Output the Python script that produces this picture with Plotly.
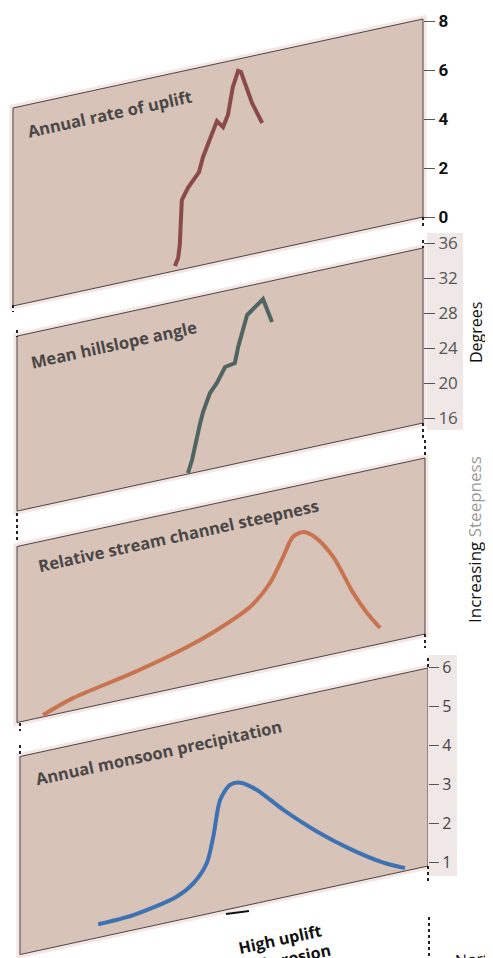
import math
import plotly.graph_objects as go

PAGE_W, PAGE_H = 493, 958
OFF = 8  # default page body margin
W, H = PAGE_W - OFF, PAGE_H - OFF

# ---------------- data ----------------
# x: position across the transect, 0 = left edge, 100 = right edge of the panels
uplift_x = [38.7, 39.5, 39.9, 40.2, 40.4, 41.9, 44.6, 45.6, 47.3, 49.0, 50.5, 51.7, 52.9, 54.2, 54.9, 55.9, 57.6, 60.1]
uplift_v = [0.20, 0.50, 1.01, 1.82, 2.83, 3.27, 3.82, 4.40, 5.11, 5.74, 5.44, 5.89, 6.99, 7.60, 7.53, 7.05, 6.17, 5.26]

hill_x = [41.9, 42.9, 44.9, 45.6, 47.3, 49.0, 51.0, 53.4, 54.2, 56.4, 60.3, 62.5]
hill_v = [15.54, 16.93, 20.96, 22.14, 24.14, 25.11, 26.74, 26.95, 28.70, 32.13, 33.57, 30.72]

stream_x = [6.4, 13.7, 28.4, 41.7, 49.0, 57.1, 62.0, 65.2, 67.6, 70.1, 73.0, 77.5, 82.4, 85.8, 89.0]
stream_v = [0.11, 0.70, 1.39, 2.19, 2.79, 3.69, 4.81, 6.12, 7.14, 7.30, 6.87, 5.51, 3.22, 1.91, 0.90]

monsoon_x = [19.9, 28.5, 39.1, 43.2, 46.5, 48.1, 49.8, 52.2, 54.7, 58.8, 65.3, 73.5, 81.6, 89.8, 95.1]
monsoon_v = [1.24, 1.28, 1.51, 1.76, 2.20, 2.84, 3.75, 4.08, 4.08, 3.80, 3.14, 2.40, 1.77, 1.23, 0.97]

uplift_ticks = [0, 2, 4, 6, 8]
hill_ticks = [16, 20, 24, 28, 32, 36]
monsoon_ticks = [1, 2, 3, 4, 5, 6]

titles = ["Annual rate of uplift", "Mean hillslope angle",
          "Relative stream channel steepness", "Annual monsoon precipitation"]

# ---------------- geometry (layout only, page pixels) ----------------
X0_PX, PX_PER_X = 17.0, 4.08
SHEAR = 0.217  # px down per px to the left
ANGLE = -math.degrees(math.atan(SHEAR))

panels = [
    dict(l=13, r=423, tr=19, br=217, p_ref=217, v_ref=0, k=24.5),
    dict(l=17, r=423, tr=248, br=423, p_ref=418, v_ref=16, k=8.75),
    dict(l=17, r=425, tr=458, br=634, p_ref=634, v_ref=0, k=17.6),
    dict(l=20, r=428, tr=668, br=866, p_ref=862, v_ref=1, k=39.0),
]


def yrange(p):
    pr = p["p_ref"] - OFF
    return [p["v_ref"] - (H - pr) / p["k"], p["v_ref"] + pr / p["k"]]


def sheared(p, xs, vs):
    out = []
    for x, v in zip(xs, vs):
        px = X0_PX + PX_PER_X * x
        out.append(v - SHEAR * (p["r"] - px) / p["k"])
    return out


def pp(px, py):
    return (px - OFF) / W, 1 - (py - OFF) / H


fig = go.Figure()

shapes = []
for p in panels:
    d = SHEAR * (p["r"] - p["l"])
    corners = [(p["l"], p["tr"] + d), (p["r"], p["tr"]), (p["r"], p["br"]), (p["l"], p["br"] + d)]
    path = "M " + " L ".join(f"{pp(a, b)[0]:.5f},{pp(a, b)[1]:.5f}" for a, b in corners) + " Z"
    shapes.append(dict(type="path", path=path, xref="paper", yref="paper", layer="below",
                       fillcolor="#f3e6e5", line=dict(color="#f3e6e5", width=7)))
    shapes.append(dict(type="path", path=path, xref="paper", yref="paper", layer="below",
                       fillcolor="#d7c3b8", line=dict(color="#4d4545", width=1)))

# light boxes behind tick labels
for (x0, y0, x1, y1) in [(427, 233, 463, 430), (428, 655, 457, 876)]:
    a = pp(x0, y0); b = pp(x1, y1)
    shapes.append(dict(type="rect", xref="paper", yref="paper", layer="below",
                       x0=a[0], y0=b[1], x1=b[0], y1=a[1], fillcolor="#efe8e7", line=dict(width=0)))

# dotted connectors
dots = [(423, 217, 228), (13, 305, 312), (17, 330, 337), (423, 240, 248), (423, 423, 440),
        (17, 513, 542), (425, 440, 458), (425, 634, 648), (20, 723, 731), (20, 745, 756),
        (428, 658, 668), (428, 866, 882), (429, 917, 958)]
for (x, y0, y1) in dots:
    a = pp(x, y0); b = pp(x, y1)
    shapes.append(dict(type="line", xref="paper", yref="paper", x0=a[0], x1=a[0], y0=a[1], y1=b[1],
                       line=dict(color="#222222", width=2, dash="dot")))

# small dark arc below the last panel
a = pp(226, 914); b = pp(249, 911)
shapes.append(dict(type="line", xref="paper", yref="paper", x0=a[0], y0=a[1], x1=b[0], y1=b[1],
                   line=dict(color="#111111", width=2)))

series = [
    (uplift_x, uplift_v, "y", "#8a4a4a", "linear"),
    (hill_x, hill_v, "y2", "#506461", "linear"),
    (stream_x, stream_v, "y3", "#c97450", "spline"),
    (monsoon_x, monsoon_v, "y4", "#3e72b2", "spline"),
]
for (xs, vs, ya, col, shape), p in zip(series, panels):
    fig.add_trace(go.Scatter(x=xs, y=sheared(p, xs, vs), yaxis=ya, mode="lines",
                             line=dict(color=col, width=4, shape=shape, smoothing=0.8),
                             hoverinfo="skip"))

x0f = X0_PX - OFF
xr = [-x0f / PX_PER_X, (W - x0f) / PX_PER_X]


def tick_axis(p, vals, font, ticklen, **kw):
    d = dict(range=yrange(p), domain=[0, 1], anchor="free", position=(p["r"] - OFF) / W, side="right",
             tickmode="array", tickvals=vals, ticks="outside", ticklen=ticklen, tickwidth=1,
             tickcolor="#555555", showgrid=False, zeroline=False, showline=False,
             tickfont=font, fixedrange=True)
    d.update(kw)
    return d


def note(text, px, py, size, angle=0, color="#111111", xanchor="center", yanchor="middle"):
    a = pp(px, py)
    return dict(text=text, x=a[0], y=a[1], xref="paper", yref="paper", showarrow=False,
                textangle=angle, xanchor=xanchor, yanchor=yanchor, align="center",
                font=dict(family="Open Sans", size=size, color=color))


annotations = []
title_pos = [(110, 114), (113, 344), (178, 535), (158, 752)]
for t, (x, y) in zip(titles, title_pos):
    annotations.append(note(f"<b>{t}</b>", x, y, 16.5, ANGLE, "#4a4747"))

annotations.append(note("Degrees", 476, 333, 16, -90))
annotations.append(note("Increasing <span style='color:#9a9a9a'>Steepness</span>", 474, 540, 17, -90))
annotations.append(note("<b>High uplift<br>and erosion</b>", 282, 949, 16, ANGLE))
annotations.append(note("North", 452, 944, 16, -4, xanchor="left", yanchor="top"))

fig.update_layout(
    width=W, height=H, autosize=False,
    margin=dict(l=0, r=0, t=0, b=0, pad=0),
    paper_bgcolor="white", plot_bgcolor="rgba(0,0,0,0)",
    showlegend=False,
    xaxis=dict(range=xr, visible=False, fixedrange=True, domain=[0, 1]),
    yaxis=tick_axis(panels[0], uplift_ticks,
                    dict(family="Roboto", size=17, color="#111111", weight="bold"), 11),
    yaxis2=tick_axis(panels[1], hill_ticks,
                     dict(family="Open Sans", size=17, color="#555555"), 11, overlaying="y"),
    yaxis3=dict(range=yrange(panels[2]), domain=[0, 1], overlaying="y", visible=False,
                anchor="free", position=(panels[2]["r"] - OFF) / W),
    yaxis4=tick_axis(panels[3], monsoon_ticks,
                     dict(family="Open Sans", size=16, color="#444444"), 10, overlaying="y"),
    shapes=shapes,
    annotations=annotations,
)

fig.write_html("out.html")
